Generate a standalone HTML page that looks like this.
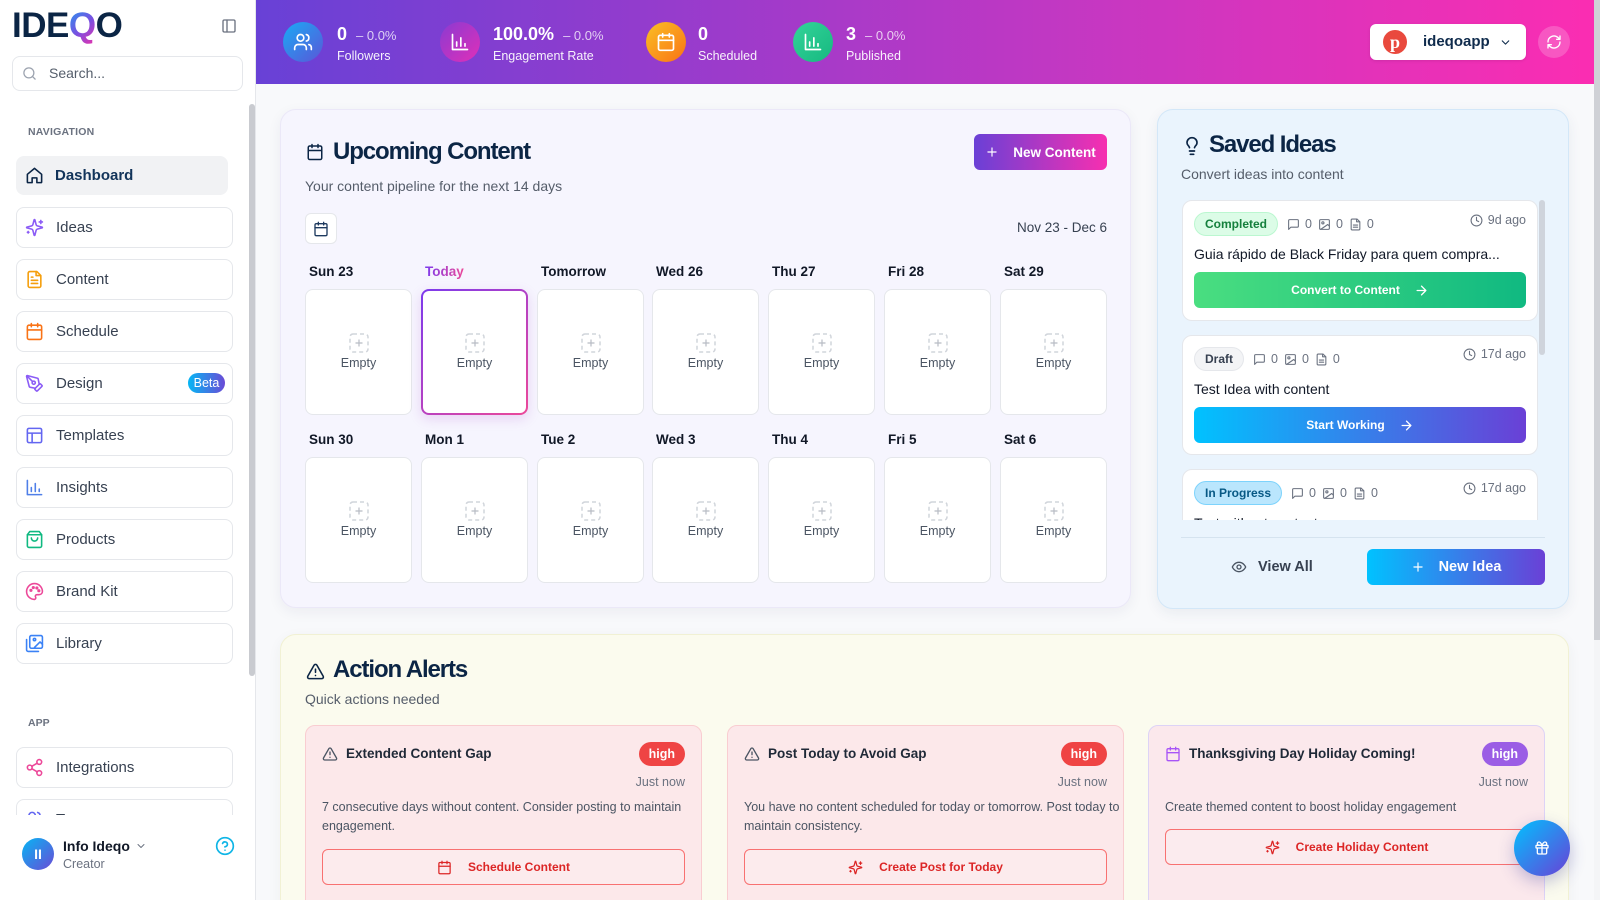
<!DOCTYPE html>
<html style="width:1600px;height:900px;overflow:hidden"><head><meta charset="utf-8">
<style>
*{box-sizing:border-box;margin:0;padding:0}
html,body{width:1600px;height:900px;overflow:hidden}
body{background:#f8f9fb;font-family:"Liberation Sans",Arial,sans-serif;color:#111827}
#root{position:relative;width:1600px;height:900px;overflow:hidden;background:#f8f9fb}
.a{position:absolute}
svg{display:block}
.ico{fill:none;stroke:currentColor;stroke-width:2;stroke-linecap:round;stroke-linejoin:round}
.ni{position:absolute;left:16px;width:217px;height:41px;border:1px solid #e5e7eb;border-radius:8px;background:#fff}
.ni svg{position:absolute;left:8px;top:10px;width:19px;height:19px}
.ni span{position:absolute;left:39px;top:0;line-height:39px;font-size:15px;color:#374151;white-space:nowrap}
.st-ic{position:absolute;top:22px;width:40px;height:40px;border-radius:50%;display:flex;align-items:center;justify-content:center}
.st-ic svg{width:20px;height:20px;color:#fff}
.st-n{position:absolute;top:21px;line-height:26px;font-size:18px;font-weight:bold;color:#fff;white-space:nowrap}
.st-n i{font-style:normal;font-weight:normal;font-size:13px;opacity:.75;margin-left:9px}
.st-l{position:absolute;top:47px;line-height:18px;font-size:12.5px;color:rgba(255,255,255,.93);white-space:nowrap}
.card{position:absolute;border-radius:16px}
.h2{position:absolute;font-size:24px;line-height:30px;font-weight:bold;color:#0b2545;letter-spacing:-1.1px;white-space:nowrap}
.sub{position:absolute;font-size:14px;line-height:20px;color:#555d6a;white-space:nowrap}
.dl{position:absolute;font-size:13.5px;line-height:20px;font-weight:bold;color:#111827;white-space:nowrap}
.cell{position:absolute;width:107px;height:126px;background:#fff;border:1px solid #e5e7eb;border-radius:8px;display:flex;flex-direction:column;align-items:center;justify-content:center;gap:1px;font-size:12.5px;color:#4b5563}
.cell div{line-height:18px}
.today{border:2px solid transparent;background:linear-gradient(#fff,#fff) padding-box,linear-gradient(135deg,#7c3aed,#ec4899) border-box;box-shadow:0 4px 12px rgba(168,60,200,.18)}
.idea{position:absolute;left:0;width:356px;background:#fff;border:1px solid #e5e7eb;border-radius:10px}
.ih{position:absolute;left:11px;top:11px;display:flex;align-items:center;height:24px}
.badge{height:24px;line-height:22px;border-radius:12px;padding:0 10px;font-size:12px;font-weight:bold;border:1px solid}
.meta{display:flex;align-items:center;font-size:12.5px;color:#6b7280}
.meta svg{width:13px;height:13px;color:#6b7280;margin-right:5px}
.meta span{margin-right:6px}
.time{position:absolute;right:11px;display:flex;align-items:center;font-size:12.5px;color:#6b7280;line-height:17px}
.time svg{width:13px;height:13px;margin-right:5px;color:#6b7280}
.it{position:absolute;left:11px;font-size:14px;line-height:20px;color:#111827;white-space:nowrap}
.ib{position:absolute;left:11px;width:332px;height:36px;border-radius:6px;display:flex;align-items:center;justify-content:center;gap:14px;color:#fff;font-size:12px;font-weight:bold}
.ib svg{width:15px;height:15px;color:#fff}
.al{position:absolute;top:90px;width:397px;height:200px;border-radius:10px;background:#fce8ea;border:1px solid #f9cdd1}
.al .ai{position:absolute;left:16px;top:20px;width:16px;height:16px}
.al .at{position:absolute;left:40px;top:18px;line-height:20px;font-size:13.5px;font-weight:bold;color:#1f2937;white-space:nowrap}
.al .hb{position:absolute;right:16px;top:16px;height:24px;line-height:24px;padding:0 10px;border-radius:12px;color:#fff;font-size:12.5px;font-weight:bold;background:#ef4444}
.al .jn{position:absolute;right:16px;top:47px;line-height:18px;font-size:12.5px;color:#6b7280}
.al .ad{position:absolute;left:16px;top:72px;line-height:19px;font-size:12.5px;color:#4b5563;white-space:nowrap}
.al .abt{position:absolute;left:16px;width:363px;height:36px;border:1px solid #f87171;border-radius:6px;display:flex;align-items:center;justify-content:center;gap:16px;color:#dc2626;font-size:12px;font-weight:bold;background:rgba(255,255,255,.15)}
.al .abt svg{width:15px;height:15px;color:#dc2626}
</style></head><body><div id="root">

<!-- SIDEBAR -->
<div class="a" style="left:0;top:0;width:256px;height:900px;background:#fff;border-right:1px solid #e5e7eb"></div>
<div class="a" style="left:12px;top:8px;font-size:35px;line-height:36px;font-weight:bold;color:#0b2545;letter-spacing:-0.5px">IDE<span style="background:linear-gradient(135deg,#1e9bf0,#7b4fe0 55%,#f02fa8);-webkit-background-clip:text;background-clip:text;color:transparent">Q</span>O</div>
<svg class="a ico" style="left:221px;top:18px;width:16px;height:16px;color:#6b7280" viewBox="0 0 24 24"><rect x="3" y="3" width="18" height="18" rx="2"/><path d="M9 3v18"/></svg>
<div class="a" style="left:12px;top:56px;width:231px;height:35px;border:1px solid #e5e7eb;border-radius:8px;background:#fff"></div>
<svg class="a ico" style="left:22px;top:66px;width:15px;height:15px;color:#9ca3af" viewBox="0 0 24 24"><circle cx="11" cy="11" r="8"/><path d="m21 21-4.3-4.3"/></svg>
<div class="a" style="left:49px;top:64px;line-height:18px;font-size:14px;color:#555e6b">Search...</div>

<div class="a" style="left:249px;top:104px;width:6px;height:572px;background:#c9cbd0;border-radius:3px"></div>

<div class="a" style="left:0;top:100px;width:248px;height:715px;overflow:hidden">
  <div class="a" style="left:28px;top:24px;line-height:16px;font-size:10.5px;font-weight:bold;color:#6b7280;letter-spacing:0.2px">NAVIGATION</div>
  <div class="a" style="left:16px;top:56px;width:212px;height:39px;border-radius:8px;background:#f1f2f4">
    <svg class="a ico" style="left:9px;top:10px;width:19px;height:19px;color:#0b2545" viewBox="0 0 24 24"><path d="M3 10.5 12 3l9 7.5V20a1 1 0 0 1-1 1h-5v-6h-6v6H4a1 1 0 0 1-1-1z"/></svg>
    <span class="a" style="left:39px;top:0;line-height:39px;font-size:15px;font-weight:bold;color:#12345a">Dashboard</span>
  </div>
  <div class="ni" style="top:107px"><svg class="ico" style="color:#8b5cf6" viewBox="0 0 24 24"><path d="M9.937 15.5A2 2 0 0 0 8.5 14.063l-6.135-1.582a.5.5 0 0 1 0-.962L8.5 9.936A2 2 0 0 0 9.937 8.5l1.582-6.135a.5.5 0 0 1 .963 0L14.063 8.5A2 2 0 0 0 15.5 9.937l6.135 1.581a.5.5 0 0 1 0 .964L15.5 14.063a2 2 0 0 0-1.437 1.437l-1.582 6.135a.5.5 0 0 1-.963 0z"/><path d="M20 3v4M22 5h-4M4 17v2M5 18H3"/></svg><span>Ideas</span></div>
  <div class="ni" style="top:159px"><svg class="ico" style="color:#f59e0b" viewBox="0 0 24 24"><path d="M15 2H6a2 2 0 0 0-2 2v16a2 2 0 0 0 2 2h12a2 2 0 0 0 2-2V7z"/><path d="M14 2v5h5M16 13H8M16 17H8M10 9H8"/></svg><span>Content</span></div>
  <div class="ni" style="top:211px"><svg class="ico" style="color:#f97316" viewBox="0 0 24 24"><rect x="3" y="4" width="18" height="18" rx="2"/><path d="M16 2v4M8 2v4M3 10h18"/></svg><span>Schedule</span></div>
  <div class="ni" style="top:263px"><svg class="ico" style="color:#8b5cf6" viewBox="0 0 24 24"><path d="M15.707 21.293a1 1 0 0 1-1.414 0l-1.586-1.586a1 1 0 0 1 0-1.414l5.586-5.586a1 1 0 0 1 1.414 0l1.586 1.586a1 1 0 0 1 0 1.414z"/><path d="m18 13-1.375-6.874a1 1 0 0 0-.746-.776L3.235 2.028a1 1 0 0 0-1.207 1.207L5.35 15.879a1 1 0 0 0 .776.746L13 18"/><path d="m2.3 2.3 7.286 7.286"/><circle cx="11" cy="11" r="2"/></svg><span>Design</span>
    <div class="a" style="left:171px;top:9px;width:37px;height:20px;border-radius:10px;background:linear-gradient(90deg,#06b6f4,#6a4bd6);color:#fff;font-size:12.5px;line-height:20px;text-align:center">Beta</div></div>
  <div class="ni" style="top:315px"><svg class="ico" style="color:#6366f1" viewBox="0 0 24 24"><rect x="3" y="3" width="18" height="18" rx="2"/><path d="M3 9h18M9 21V9"/></svg><span>Templates</span></div>
  <div class="ni" style="top:367px"><svg class="ico" style="color:#4f7fe8" viewBox="0 0 24 24"><path d="M3 3v18h18M8 17v-5M13 17V7M18 17v-3"/></svg><span>Insights</span></div>
  <div class="ni" style="top:419px"><svg class="ico" style="color:#10b981" viewBox="0 0 24 24"><path d="M6 2 3 6v14a2 2 0 0 0 2 2h14a2 2 0 0 0 2-2V6l-3-4z"/><path d="M3 6h18M16 10a4 4 0 0 1-8 0"/></svg><span>Products</span></div>
  <div class="ni" style="top:471px"><svg class="ico" style="color:#ec4899" viewBox="0 0 24 24"><path d="M12 22a10 10 0 1 1 10-10c0 2.5-2 4-4.5 4H15a2 2 0 0 0-1.5 3.3A2 2 0 0 1 12 22z"/><circle cx="7.5" cy="10.5" r="1"/><circle cx="10.5" cy="7" r="1"/><circle cx="15" cy="7.5" r="1"/><circle cx="17.5" cy="11" r="1"/></svg><span>Brand Kit</span></div>
  <div class="ni" style="top:523px"><svg class="ico" style="color:#3b82f6" viewBox="0 0 24 24"><rect x="6" y="2" width="16" height="16" rx="2"/><path d="M2 7v13a2 2 0 0 0 2 2h13"/><circle cx="12" cy="7" r="1.5"/><path d="m22 13-3-3-7 7"/></svg><span>Library</span></div>
  <div class="a" style="left:28px;top:615px;line-height:16px;font-size:10.5px;font-weight:bold;color:#6b7280">APP</div>
  <div class="ni" style="top:647px"><svg class="ico" style="color:#ec4899" viewBox="0 0 24 24"><circle cx="18" cy="5" r="3"/><circle cx="6" cy="12" r="3"/><circle cx="18" cy="19" r="3"/><path d="m8.6 13.5 6.8 4M15.4 6.5l-6.8 4"/></svg><span>Integrations</span></div>
  <div class="ni" style="top:699px"><svg class="ico" style="color:#6366f1" viewBox="0 0 24 24"><path d="M16 21v-2a4 4 0 0 0-4-4H6a4 4 0 0 0-4 4v2"/><circle cx="9" cy="7" r="4"/><path d="M22 21v-2a4 4 0 0 0-3-3.87M16 3.13a4 4 0 0 1 0 7.75"/></svg><span>Team</span></div>
</div>

<div class="a" style="left:22px;top:838px;width:32px;height:32px;border-radius:50%;background:linear-gradient(135deg,#06b6f4,#6a4bd6);color:#fff;font-size:14px;font-weight:bold;line-height:32px;text-align:center">II</div>
<div class="a" style="left:63px;top:836px;line-height:20px;font-size:14px;font-weight:bold;color:#111827">Info Ideqo</div>
<svg class="a ico" style="left:135px;top:840px;width:12px;height:12px;color:#6b7280" viewBox="0 0 24 24"><path d="m6 9 6 6 6-6"/></svg>
<div class="a" style="left:63px;top:856px;line-height:16px;font-size:12.5px;color:#6b7280">Creator</div>
<svg class="a ico" style="left:215px;top:836px;width:20px;height:20px;color:#0fb5e6" viewBox="0 0 24 24"><circle cx="12" cy="12" r="10"/><path d="M9.1 9a3 3 0 0 1 5.8 1c0 2-3 3-3 3M12 17h.01"/></svg>

<!-- HEADER -->
<div class="a" style="left:256px;top:0;width:1338px;height:84px;background:linear-gradient(90deg,#6841d6 0%,#9c3bcb 35%,#c937c1 65%,#fb2db2 100%)"></div>

<div class="st-ic" style="left:283px;background:linear-gradient(135deg,#1aaaf5,#5a56d8)"><svg class="ico" viewBox="0 0 24 24"><path d="M16 21v-2a4 4 0 0 0-4-4H6a4 4 0 0 0-4 4v2"/><circle cx="9" cy="7" r="4"/><path d="M22 21v-2a4 4 0 0 0-3-3.870M16 3.13a4 4 0 0 1 0 7.75"/></svg></div>
<div class="st-n" style="left:337px">0<i>– 0.0%</i></div>
<div class="st-l" style="left:337px">Followers</div>

<div class="st-ic" style="left:440px;background:linear-gradient(135deg,#8a3bd2,#e02fb8)"><svg class="ico" viewBox="0 0 24 24"><path d="M3 3v18h18M8 17v-5M13 17V7M18 17v-3"/></svg></div>
<div class="st-n" style="left:493px">100.0%<i>– 0.0%</i></div>
<div class="st-l" style="left:493px">Engagement Rate</div>

<div class="st-ic" style="left:646px;background:linear-gradient(135deg,#fbbf24,#f97316)"><svg class="ico" viewBox="0 0 24 24"><rect x="3" y="4" width="18" height="18" rx="2"/><path d="M16 2v4M8 2v4M3 10h18"/></svg></div>
<div class="st-n" style="left:698px">0</div>
<div class="st-l" style="left:698px">Scheduled</div>

<div class="st-ic" style="left:793px;background:linear-gradient(135deg,#34d399,#16b980)"><svg class="ico" viewBox="0 0 24 24"><path d="M3 3v18h18M8 17v-5M13 17V7M18 17v-3"/></svg></div>
<div class="st-n" style="left:846px">3<i>– 0.0%</i></div>
<div class="st-l" style="left:846px">Published</div>

<div class="a" style="left:1370px;top:24px;width:156px;height:36px;background:#fff;border-radius:6px;box-shadow:0 1px 3px rgba(0,0,0,.1)"></div>
<div class="a" style="left:1383px;top:30px;width:24px;height:24px;border-radius:50%;background:#e9493d;color:#fff;font-family:'Liberation Serif',serif;font-weight:bold;font-size:18px;line-height:25px;text-align:center">p</div>
<div class="a" style="left:1423px;top:32px;line-height:20px;font-size:15px;font-weight:bold;color:#0f2b4c">ideqoapp</div>
<svg class="a ico" style="left:1499px;top:36px;width:13px;height:13px;color:#0f2b4c" viewBox="0 0 24 24"><path d="m6 9 6 6 6-6"/></svg>
<div class="a" style="left:1538px;top:26px;width:32px;height:32px;border-radius:50%;background:rgba(255,255,255,.2)"></div>
<svg class="a ico" style="left:1546px;top:34px;width:16px;height:16px;color:#fff" viewBox="0 0 24 24"><path d="M3 12a9 9 0 0 1 15-6.7L21 8M21 3v5h-5M21 12a9 9 0 0 1-15 6.7L3 16M3 21v-5h5"/></svg>

<!-- page scrollbar -->
<div class="a" style="left:1594px;top:0;width:6px;height:900px;background:#f4f5f7"></div>
<div class="a" style="left:1594px;top:0;width:6px;height:640px;background:#cfd1d6"></div>

<!-- UPCOMING CONTENT -->
<div class="card" style="left:280px;top:109px;width:851px;height:499px;background:#f6f5fe;border:1px solid #ebe8f8;box-shadow:0 4px 14px rgba(30,30,80,.06)">
  <svg class="a ico" style="left:25px;top:33px;width:18px;height:18px;color:#0b2545" viewBox="0 0 24 24"><rect x="3" y="4" width="18" height="18" rx="2"/><path d="M16 2v4M8 2v4M3 10h18"/></svg>
  <div class="h2" style="left:52px;top:27px">Upcoming Content</div>
  <div class="sub" style="left:24px;top:66px">Your content pipeline for the next 14 days</div>
  <div class="a" style="left:693px;top:24px;width:133px;height:36px;border-radius:6px;background:linear-gradient(90deg,#6a40d6,#f72fb0);display:flex;align-items:center;justify-content:center;gap:14px;color:#fff;font-size:13.5px;font-weight:bold">
    <svg class="ico" style="width:14px;height:14px;color:#fff" viewBox="0 0 24 24"><path d="M5 12h14M12 5v14"/></svg>New Content</div>
  <div class="a" style="left:24px;top:103px;width:32px;height:31px;border:1px solid #e5e7eb;border-radius:6px;background:#fff"></div>
  <svg class="a ico" style="left:32px;top:111px;width:16px;height:16px;color:#1e3a5f" viewBox="0 0 24 24"><rect x="3" y="4" width="18" height="18" rx="2"/><path d="M16 2v4M8 2v4M3 10h18"/></svg>
  <div class="a" style="right:23px;top:108px;line-height:20px;font-size:13.5px;color:#374151">Nov 23 - Dec 6</div>

  <div class="dl" style="left:28px;top:152px">Sun 23</div>
  <div class="dl" style="left:144px;top:152px;background:linear-gradient(90deg,#7c3aed,#ec4899);-webkit-background-clip:text;background-clip:text;color:transparent">Today</div>
  <div class="dl" style="left:260px;top:152px">Tomorrow</div>
  <div class="dl" style="left:375px;top:152px">Wed 26</div>
  <div class="dl" style="left:491px;top:152px">Thu 27</div>
  <div class="dl" style="left:607px;top:152px">Fri 28</div>
  <div class="dl" style="left:723px;top:152px">Sat 29</div>

  <div class="dl" style="left:28px;top:320px">Sun 30</div>
  <div class="dl" style="left:144px;top:320px">Mon 1</div>
  <div class="dl" style="left:260px;top:320px">Tue 2</div>
  <div class="dl" style="left:375px;top:320px">Wed 3</div>
  <div class="dl" style="left:491px;top:320px">Thu 4</div>
  <div class="dl" style="left:607px;top:320px">Fri 5</div>
  <div class="dl" style="left:723px;top:320px">Sat 6</div>

  <div class="cell" style="left:24px;top:179px"><svg width="20" height="20" viewBox="0 0 20 20"><rect x="1" y="1" width="18" height="18" rx="3" fill="none" stroke="#d1d5db" stroke-width="1.5" stroke-dasharray="4 3"/><path d="M10 6.5v7M6.5 10h7" stroke="#b8bcc4" stroke-width="1.2"/></svg><div>Empty</div></div>
  <div class="cell today" style="left:140px;top:179px"><svg width="20" height="20" viewBox="0 0 20 20"><rect x="1" y="1" width="18" height="18" rx="3" fill="none" stroke="#d1d5db" stroke-width="1.5" stroke-dasharray="4 3"/><path d="M10 6.5v7M6.5 10h7" stroke="#b8bcc4" stroke-width="1.2"/></svg><div>Empty</div></div>
  <div class="cell" style="left:256px;top:179px"><svg width="20" height="20" viewBox="0 0 20 20"><rect x="1" y="1" width="18" height="18" rx="3" fill="none" stroke="#d1d5db" stroke-width="1.5" stroke-dasharray="4 3"/><path d="M10 6.5v7M6.5 10h7" stroke="#b8bcc4" stroke-width="1.2"/></svg><div>Empty</div></div>
  <div class="cell" style="left:371px;top:179px"><svg width="20" height="20" viewBox="0 0 20 20"><rect x="1" y="1" width="18" height="18" rx="3" fill="none" stroke="#d1d5db" stroke-width="1.5" stroke-dasharray="4 3"/><path d="M10 6.5v7M6.5 10h7" stroke="#b8bcc4" stroke-width="1.2"/></svg><div>Empty</div></div>
  <div class="cell" style="left:487px;top:179px"><svg width="20" height="20" viewBox="0 0 20 20"><rect x="1" y="1" width="18" height="18" rx="3" fill="none" stroke="#d1d5db" stroke-width="1.5" stroke-dasharray="4 3"/><path d="M10 6.5v7M6.5 10h7" stroke="#b8bcc4" stroke-width="1.2"/></svg><div>Empty</div></div>
  <div class="cell" style="left:603px;top:179px"><svg width="20" height="20" viewBox="0 0 20 20"><rect x="1" y="1" width="18" height="18" rx="3" fill="none" stroke="#d1d5db" stroke-width="1.5" stroke-dasharray="4 3"/><path d="M10 6.5v7M6.5 10h7" stroke="#b8bcc4" stroke-width="1.2"/></svg><div>Empty</div></div>
  <div class="cell" style="left:719px;top:179px"><svg width="20" height="20" viewBox="0 0 20 20"><rect x="1" y="1" width="18" height="18" rx="3" fill="none" stroke="#d1d5db" stroke-width="1.5" stroke-dasharray="4 3"/><path d="M10 6.5v7M6.5 10h7" stroke="#b8bcc4" stroke-width="1.2"/></svg><div>Empty</div></div>

  <div class="cell" style="left:24px;top:347px"><svg width="20" height="20" viewBox="0 0 20 20"><rect x="1" y="1" width="18" height="18" rx="3" fill="none" stroke="#d1d5db" stroke-width="1.5" stroke-dasharray="4 3"/><path d="M10 6.5v7M6.5 10h7" stroke="#b8bcc4" stroke-width="1.2"/></svg><div>Empty</div></div>
  <div class="cell" style="left:140px;top:347px"><svg width="20" height="20" viewBox="0 0 20 20"><rect x="1" y="1" width="18" height="18" rx="3" fill="none" stroke="#d1d5db" stroke-width="1.5" stroke-dasharray="4 3"/><path d="M10 6.5v7M6.5 10h7" stroke="#b8bcc4" stroke-width="1.2"/></svg><div>Empty</div></div>
  <div class="cell" style="left:256px;top:347px"><svg width="20" height="20" viewBox="0 0 20 20"><rect x="1" y="1" width="18" height="18" rx="3" fill="none" stroke="#d1d5db" stroke-width="1.5" stroke-dasharray="4 3"/><path d="M10 6.5v7M6.5 10h7" stroke="#b8bcc4" stroke-width="1.2"/></svg><div>Empty</div></div>
  <div class="cell" style="left:371px;top:347px"><svg width="20" height="20" viewBox="0 0 20 20"><rect x="1" y="1" width="18" height="18" rx="3" fill="none" stroke="#d1d5db" stroke-width="1.5" stroke-dasharray="4 3"/><path d="M10 6.5v7M6.5 10h7" stroke="#b8bcc4" stroke-width="1.2"/></svg><div>Empty</div></div>
  <div class="cell" style="left:487px;top:347px"><svg width="20" height="20" viewBox="0 0 20 20"><rect x="1" y="1" width="18" height="18" rx="3" fill="none" stroke="#d1d5db" stroke-width="1.5" stroke-dasharray="4 3"/><path d="M10 6.5v7M6.5 10h7" stroke="#b8bcc4" stroke-width="1.2"/></svg><div>Empty</div></div>
  <div class="cell" style="left:603px;top:347px"><svg width="20" height="20" viewBox="0 0 20 20"><rect x="1" y="1" width="18" height="18" rx="3" fill="none" stroke="#d1d5db" stroke-width="1.5" stroke-dasharray="4 3"/><path d="M10 6.5v7M6.5 10h7" stroke="#b8bcc4" stroke-width="1.2"/></svg><div>Empty</div></div>
  <div class="cell" style="left:719px;top:347px"><svg width="20" height="20" viewBox="0 0 20 20"><rect x="1" y="1" width="18" height="18" rx="3" fill="none" stroke="#d1d5db" stroke-width="1.5" stroke-dasharray="4 3"/><path d="M10 6.5v7M6.5 10h7" stroke="#b8bcc4" stroke-width="1.2"/></svg><div>Empty</div></div>
</div>

<!-- SAVED IDEAS -->
<div class="card" style="left:1157px;top:109px;width:412px;height:500px;background:#eaf4fd;border:1px solid #d3e7f8;box-shadow:0 4px 14px rgba(30,60,100,.07)">
  <svg class="a ico" style="left:24px;top:25px;width:20px;height:22px;color:#0b2545" viewBox="0 0 24 24"><path d="M15 14c.2-1 .7-1.7 1.5-2.5 1-.9 1.5-2.2 1.5-3.5A6 6 0 0 0 6 8c0 1 .2 2.2 1.5 3.5.7.7 1.3 1.5 1.5 2.5"/><path d="M9 18h6M10 22h4"/></svg>
  <div class="h2" style="left:51px;top:20px">Saved Ideas</div>
  <div class="sub" style="left:23px;top:54px">Convert ideas into content</div>

  <div class="a" style="left:24px;top:90px;width:364px;height:320px;overflow:hidden">
    <div class="a" style="left:357px;top:0;width:6px;height:155px;border-radius:3px;background:#cfd4dc"></div>

    <div class="idea" style="top:0;height:121px">
      <div class="ih"><div class="badge" style="background:#dcfce7;border-color:#bbf7d0;color:#15803d">Completed</div>
        <div class="meta" style="margin-left:9px">
          <svg class="ico" viewBox="0 0 24 24"><path d="M21 15a2 2 0 0 1-2 2H7l-4 4V5a2 2 0 0 1 2-2h14a2 2 0 0 1 2 2z"/></svg><span>0</span>
          <svg class="ico" viewBox="0 0 24 24"><rect x="3" y="3" width="18" height="18" rx="2"/><circle cx="9" cy="9" r="2"/><path d="m21 15-3-3L5 21"/></svg><span>0</span>
          <svg class="ico" viewBox="0 0 24 24"><path d="M15 2H6a2 2 0 0 0-2 2v16a2 2 0 0 0 2 2h12a2 2 0 0 0 2-2V7z"/><path d="M14 2v5h5M16 13H8M16 17H8"/></svg><span>0</span>
        </div></div>
      <div class="time" style="top:11px"><svg class="ico" viewBox="0 0 24 24"><circle cx="12" cy="12" r="10"/><path d="M12 6v6l4 2"/></svg>9d ago</div>
      <div class="it" style="top:43px">Guia rápido de Black Friday para quem compra...</div>
      <div class="ib" style="top:71px;background:linear-gradient(90deg,#4ade80,#10b981)">Convert to Content<svg class="ico" viewBox="0 0 24 24"><path d="M5 12h14M12 5l7 7-7 7"/></svg></div>
    </div>

    <div class="idea" style="top:135px;height:120px">
      <div class="ih"><div class="badge" style="background:#f3f4f6;border-color:#e5e7eb;color:#374151">Draft</div>
        <div class="meta" style="margin-left:9px">
          <svg class="ico" viewBox="0 0 24 24"><path d="M21 15a2 2 0 0 1-2 2H7l-4 4V5a2 2 0 0 1 2-2h14a2 2 0 0 1 2 2z"/></svg><span>0</span>
          <svg class="ico" viewBox="0 0 24 24"><rect x="3" y="3" width="18" height="18" rx="2"/><circle cx="9" cy="9" r="2"/><path d="m21 15-3-3L5 21"/></svg><span>0</span>
          <svg class="ico" viewBox="0 0 24 24"><path d="M15 2H6a2 2 0 0 0-2 2v16a2 2 0 0 0 2 2h12a2 2 0 0 0 2-2V7z"/><path d="M14 2v5h5M16 13H8M16 17H8"/></svg><span>0</span>
        </div></div>
      <div class="time" style="top:10px"><svg class="ico" viewBox="0 0 24 24"><circle cx="12" cy="12" r="10"/><path d="M12 6v6l4 2"/></svg>17d ago</div>
      <div class="it" style="top:43px">Test Idea with content</div>
      <div class="ib" style="top:71px;background:linear-gradient(90deg,#00c2ff,#6a40d6)">Start Working<svg class="ico" viewBox="0 0 24 24"><path d="M5 12h14M12 5l7 7-7 7"/></svg></div>
    </div>

    <div class="idea" style="top:269px;height:120px">
      <div class="ih"><div class="badge" style="background:#bae6fd;border-color:#7dd3fc;color:#075985">In Progress</div>
        <div class="meta" style="margin-left:9px">
          <svg class="ico" viewBox="0 0 24 24"><path d="M21 15a2 2 0 0 1-2 2H7l-4 4V5a2 2 0 0 1 2-2h14a2 2 0 0 1 2 2z"/></svg><span>0</span>
          <svg class="ico" viewBox="0 0 24 24"><rect x="3" y="3" width="18" height="18" rx="2"/><circle cx="9" cy="9" r="2"/><path d="m21 15-3-3L5 21"/></svg><span>0</span>
          <svg class="ico" viewBox="0 0 24 24"><path d="M15 2H6a2 2 0 0 0-2 2v16a2 2 0 0 0 2 2h12a2 2 0 0 0 2-2V7z"/><path d="M14 2v5h5M16 13H8M16 17H8"/></svg><span>0</span>
        </div></div>
      <div class="time" style="top:10px"><svg class="ico" viewBox="0 0 24 24"><circle cx="12" cy="12" r="10"/><path d="M12 6v6l4 2"/></svg>17d ago</div>
      <div class="it" style="top:43px">Test without content</div>
    </div>
  </div>

  <div class="a" style="left:23px;top:427px;width:364px;height:1px;background:#d5e3ef"></div>
  <svg class="a ico" style="left:73px;top:449px;width:16px;height:16px;color:#4b5563" viewBox="0 0 24 24"><path d="M2 12s3-7 10-7 10 7 10 7-3 7-10 7-10-7-10-7z"/><circle cx="12" cy="12" r="3"/></svg>
  <div class="a" style="left:100px;top:447px;line-height:20px;font-size:14.5px;font-weight:bold;color:#374151">View All</div>
  <div class="a" style="left:209px;top:439px;width:178px;height:36px;border-radius:6px;background:linear-gradient(90deg,#00c2ff,#6a40d6);display:flex;align-items:center;justify-content:center;gap:14px;color:#fff;font-size:14.5px;font-weight:bold">
    <svg class="ico" style="width:14px;height:14px;color:#fff" viewBox="0 0 24 24"><path d="M5 12h14M12 5v14"/></svg>New Idea</div>
</div>

<!-- ACTION ALERTS -->
<div class="card" style="left:280px;top:634px;width:1289px;height:300px;background:#fbfbee;border:1px solid #f1f1d4;box-shadow:0 4px 14px rgba(60,60,20,.05)">
  <svg class="a ico" style="left:25px;top:27px;width:19px;height:19px;color:#0b2545" viewBox="0 0 24 24"><path d="m21.73 18-8-14a2 2 0 0 0-3.48 0l-8 14A2 2 0 0 0 4 21h16a2 2 0 0 0 1.73-3"/><path d="M12 9v4M12 17h.01"/></svg>
  <div class="h2" style="left:52px;top:20px">Action Alerts</div>
  <div class="sub" style="left:24px;top:54px">Quick actions needed</div>

  <div class="al" style="left:24px">
    <svg class="ai ico" viewBox="0 0 24 24" style="color:#4b5563"><path d="m21.73 18-8-14a2 2 0 0 0-3.48 0l-8 14A2 2 0 0 0 4 21h16a2 2 0 0 0 1.73-3"/><path d="M12 9v4M12 17h.01"/></svg>
    <div class="at">Extended Content Gap</div>
    <div class="hb">high</div>
    <div class="jn">Just now</div>
    <div class="ad">7 consecutive days without content. Consider posting to maintain<br>engagement.</div>
    <div class="abt" style="top:123px"><svg class="ico" viewBox="0 0 24 24"><rect x="3" y="4" width="18" height="18" rx="2"/><path d="M16 2v4M8 2v4M3 10h18"/></svg>Schedule Content</div>
  </div>

  <div class="al" style="left:446px">
    <svg class="ai ico" viewBox="0 0 24 24" style="color:#4b5563"><path d="m21.73 18-8-14a2 2 0 0 0-3.48 0l-8 14A2 2 0 0 0 4 21h16a2 2 0 0 0 1.73-3"/><path d="M12 9v4M12 17h.01"/></svg>
    <div class="at">Post Today to Avoid Gap</div>
    <div class="hb">high</div>
    <div class="jn">Just now</div>
    <div class="ad">You have no content scheduled for today or tomorrow. Post today to<br>maintain consistency.</div>
    <div class="abt" style="top:123px"><svg class="ico" viewBox="0 0 24 24"><path d="M9.937 15.5A2 2 0 0 0 8.5 14.063l-6.135-1.582a.5.5 0 0 1 0-.962L8.5 9.936A2 2 0 0 0 9.937 8.5l1.582-6.135a.5.5 0 0 1 .963 0L14.063 8.5A2 2 0 0 0 15.5 9.937l6.135 1.581a.5.5 0 0 1 0 .964L15.5 14.063a2 2 0 0 0-1.437 1.437l-1.582 6.135a.5.5 0 0 1-.963 0z"/><path d="M20 3v4M22 5h-4M4 17v2M5 18H3"/></svg>Create Post for Today</div>
  </div>

  <div class="al" style="left:867px;border-color:#ddd3f6;background:#fbe8ec">
    <svg class="ai ico" viewBox="0 0 24 24" style="color:#a855f7"><rect x="3" y="4" width="18" height="18" rx="2"/><path d="M16 2v4M8 2v4M3 10h18"/></svg>
    <div class="at">Thanksgiving Day Holiday Coming!</div>
    <div class="hb" style="background:#9b5de5">high</div>
    <div class="jn">Just now</div>
    <div class="ad">Create themed content to boost holiday engagement</div>
    <div class="abt" style="top:103px"><svg class="ico" viewBox="0 0 24 24"><path d="M9.937 15.5A2 2 0 0 0 8.5 14.063l-6.135-1.582a.5.5 0 0 1 0-.962L8.5 9.936A2 2 0 0 0 9.937 8.5l1.582-6.135a.5.5 0 0 1 .963 0L14.063 8.5A2 2 0 0 0 15.5 9.937l6.135 1.581a.5.5 0 0 1 0 .964L15.5 14.063a2 2 0 0 0-1.437 1.437l-1.582 6.135a.5.5 0 0 1-.963 0z"/><path d="M20 3v4M22 5h-4M4 17v2M5 18H3"/></svg>Create Holiday Content</div>
  </div>
</div>

<!-- FAB -->
<div class="a" style="left:1514px;top:820px;width:56px;height:56px;border-radius:50%;background:linear-gradient(135deg,#00c2ff,#6a40d6);box-shadow:0 6px 16px rgba(60,60,160,.3);display:flex;align-items:center;justify-content:center">
  <svg class="ico" style="width:16px;height:16px;color:#fff" viewBox="0 0 24 24"><rect x="3" y="8" width="18" height="4" rx="1"/><path d="M12 8v13M19 12v7a2 2 0 0 1-2 2H7a2 2 0 0 1-2-2v-7M7.5 8a2.5 2.5 0 0 1 0-5C10 3 12 8 12 8s2-5 4.5-5a2.5 2.5 0 0 1 0 5"/></svg>
</div>

</div></body></html>
